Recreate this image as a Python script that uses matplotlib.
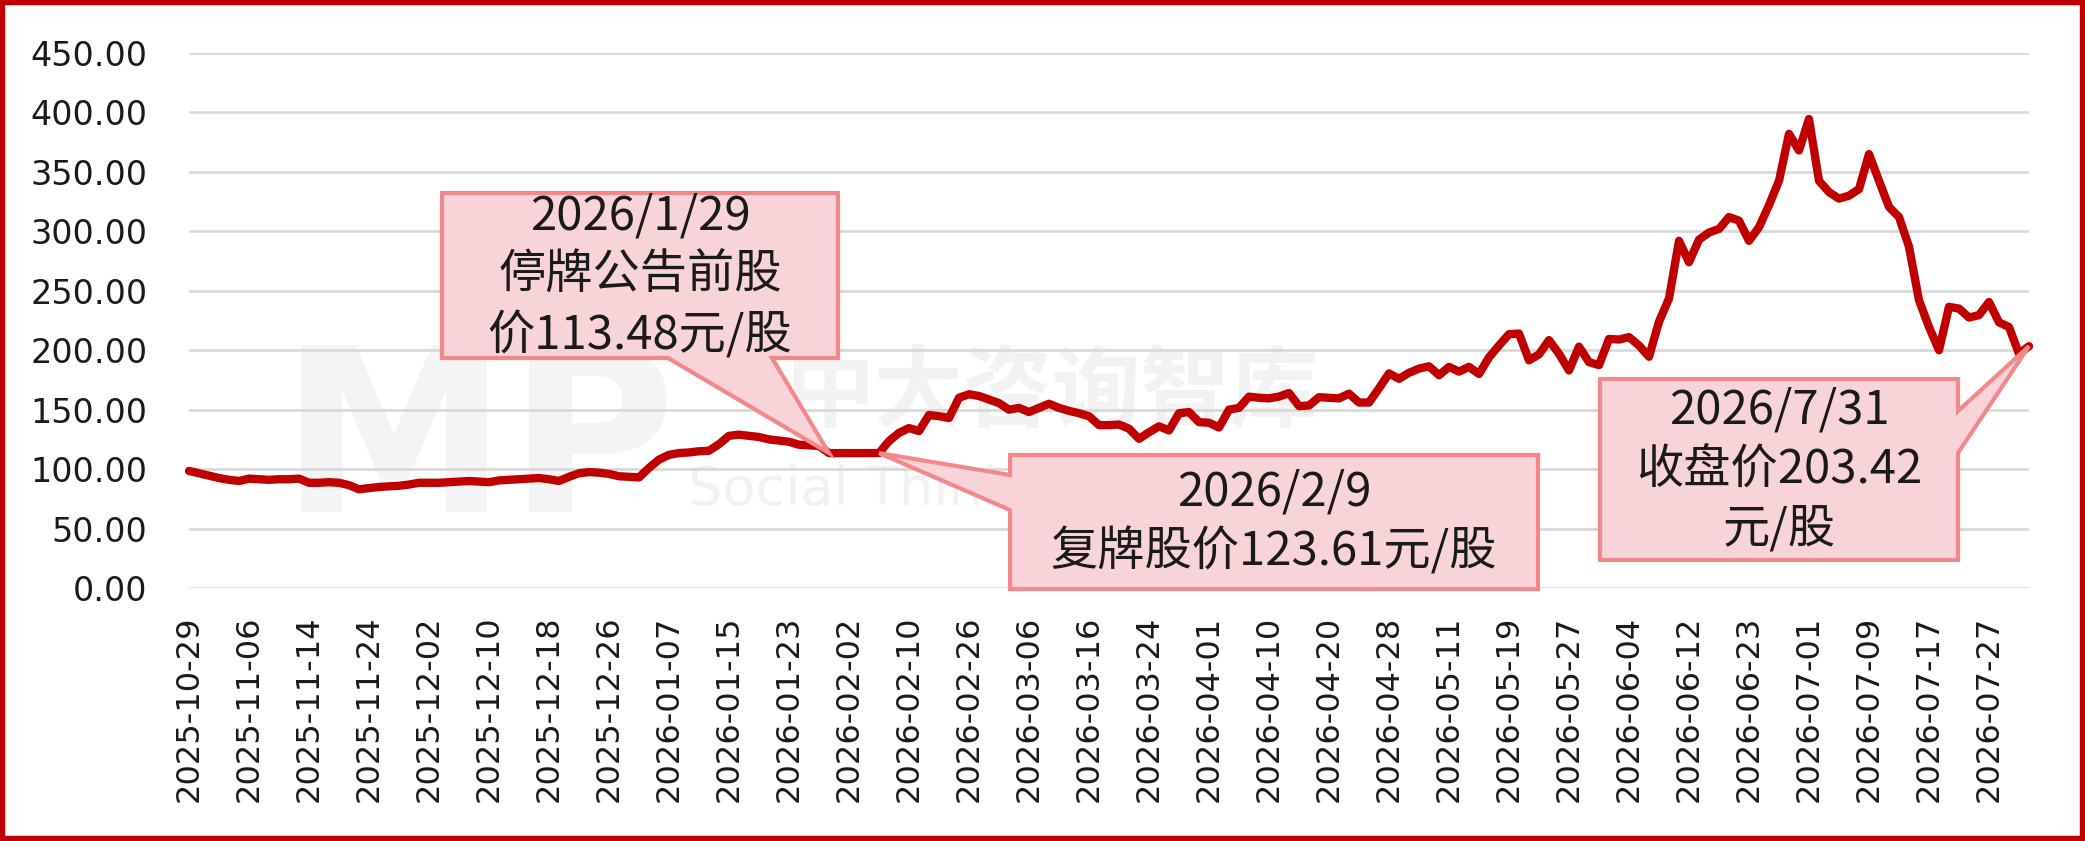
import matplotlib
matplotlib.use("Agg")
import matplotlib.pyplot as plt
from matplotlib.patches import Polygon, Rectangle
from matplotlib.transforms import IdentityTransform
import numpy as np

# ---------------- data ----------------
tick_labels = ["2025-10-29", "2025-11-06", "2025-11-14", "2025-11-24", "2025-12-02",
               "2025-12-10", "2025-12-18", "2025-12-26", "2026-01-07", "2026-01-15",
               "2026-01-23", "2026-02-02", "2026-02-10", "2026-02-26", "2026-03-06",
               "2026-03-16", "2026-03-24", "2026-04-01", "2026-04-10", "2026-04-20",
               "2026-04-28", "2026-05-11", "2026-05-19", "2026-05-27", "2026-06-04",
               "2026-06-12", "2026-06-23", "2026-07-01", "2026-07-09", "2026-07-17",
               "2026-07-27"]
tick_step = 6

prices = [
    98.5, 96.5, 94.5, 92.5, 91, 90, 92, 91.5, 91, 91.5,
    91.5, 92, 88.5, 88.5, 89, 88.5, 86.5, 83, 84, 85,
    85.5, 86, 87, 88.5, 88.5, 88.5, 89, 89.5, 90, 89.5,
    89, 90.5, 91, 91.5, 92, 92.5, 91.5, 90, 93.5, 96.5,
    97.5, 97, 96, 94, 93.5, 93, 101, 108, 112, 113.5,
    114, 115, 115.5, 121, 128, 129, 128, 127, 125, 124,
    123, 120.5, 120, 119.5, 113.48, 113.48, 113.48, 113.48, 113.48, 113.48,
    123.61, 130.5, 134.5, 132, 145.5, 144.5, 143, 160, 163, 161.5,
    158.5, 155.5, 150, 151.5, 148, 151.5, 155, 151.5, 149, 147,
    144.5, 137, 137, 137.5, 134, 125.5, 131, 136, 132.5, 147,
    148, 139.5, 139, 135, 150, 151.5, 161, 160, 159.5, 161,
    164, 153, 153.5, 160.5, 160, 159.5, 163.5, 156, 156, 168,
    180.5, 176, 181, 184.5, 186.5, 179, 186, 182, 186, 180,
    194, 204, 213.5, 214, 191.5, 196.5, 208.5, 197, 183, 203,
    190, 187.5, 209.5, 209, 211, 204, 194.5, 224, 243.5, 292,
    274, 293, 299, 302, 312, 309, 292, 303.5, 322, 342.5,
    382, 368, 394.5, 342.5, 333, 327.5, 330, 335.5, 365, 342.5,
    320.5, 312, 287, 242, 219.5, 200, 236.5, 235, 227.5, 229.5,
    240.5, 223.5, 219.5, 197, 203.42,
]

y_ticks = [0, 50, 100, 150, 200, 250, 300, 350, 400, 450]

# callout annotations: (text lines, index of pointed point)
note1_lines = ["2026/1/29", "停牌公告前股", "价113.48元/股"]
note1_idx = 64
note2_lines = ["2026/2/9", "复牌股价123.61元/股"]
note2_idx = 69
note3_lines = ["2026/7/31", "收盘价203.42", "元/股"]
note3_idx = 184

# ---------------- style ----------------
W, H = 2085, 841
LINE_RED = "#C00000"
BORDER_RED = "#C00000"
GRID = "#D9D9D9"
BOX_FILL = "#F8D3D7"
BOX_EDGE = "#F2888B"
CJK = ["Noto Sans CJK SC", "DejaVu Sans"]

fig = plt.figure(figsize=(W / 100, H / 100), dpi=100)
fig.patch.set_facecolor("white")

ax_left, ax_right, ax_top, ax_bottom = 189, 2029, 53, 588
ax = fig.add_axes([ax_left / W, 1 - ax_bottom / H,
                   (ax_right - ax_left) / W, (ax_bottom - ax_top) / H])
ax.patch.set_visible(False)

x = np.arange(len(prices))
ax.plot(x, prices, color=LINE_RED, lw=6.0, solid_joinstyle="round",
        solid_capstyle="round", zorder=3, clip_on=False)

ax.set_xlim(0, len(prices) - 1)
ax.set_ylim(0, 450)
ax.set_yticks(y_ticks)
ax.set_yticklabels([f"{v:.2f}" for v in y_ticks], fontsize=24,
                   family="DejaVu Sans", color="#1a1a1a")
ax.set_xticks(x[::tick_step][:len(tick_labels)])
ax.set_xticklabels(tick_labels, rotation=90, fontsize=23,
                   family="DejaVu Sans", color="#1a1a1a")
ax.tick_params(axis="y", length=0, pad=30)
ax.tick_params(axis="x", length=0, pad=20)
ax.grid(axis="y", color=GRID, lw=2.0, zorder=0)
ax.set_axisbelow(True)
for s in ax.spines.values():
    s.set_visible(False)

# ---------------- faint watermark ----------------
fig.text(280 / W, 1 - 512 / H, "MP", fontsize=165, fontweight="bold",
         color="#F4F4F4", family="DejaVu Sans", zorder=-1, va="baseline")
fig.text(785 / W, 1 - 420 / H, "中大咨询智库", fontsize=64, fontweight="bold",
         color="#F2F2F2", family=CJK, zorder=-1, va="baseline")
fig.text(688 / W, 1 - 505 / H, "Social Think", fontsize=39,
         color="#F1F1F1", family="DejaVu Sans", zorder=-1, va="baseline")

# ---------------- callouts ----------------
def to_pix(idx):
    px, py = ax.transData.transform((idx, prices[idx]))
    return px, py


def callout(rect, side, span, idx, lines, fs=34, ls=1.3):
    x0, y0, x1, y1 = rect           # top-origin pixels
    X0, X1 = x0, x1
    Y0, Y1 = H - y1, H - y0         # bottom-origin
    tip = to_pix(idx)
    a, b = span
    if side == "bottom":
        verts = [(X0, Y1), (X1, Y1), (X1, Y0), (b, Y0), tip, (a, Y0), (X0, Y0)]
    elif side == "left":
        ya, yb = H - a, H - b
        verts = [(X0, Y1), (X1, Y1), (X1, Y0), (X0, Y0), (X0, yb), tip, (X0, ya)]
    else:  # right
        ya, yb = H - a, H - b
        verts = [(X0, Y1), (X1, Y1), (X1, ya), tip, (X1, yb), (X1, Y0), (X0, Y0)]
    poly = Polygon(verts, closed=True, facecolor=BOX_FILL, edgecolor=BOX_EDGE,
                   lw=3.0, joinstyle="miter", transform=IdentityTransform(), zorder=5)
    fig.add_artist(poly)
    fig.text((x0 + x1) / 2 / W, 1 - (y0 + y1) / 2 / H, "\n".join(lines),
             ha="center", va="center", multialignment="center", fontsize=fs,
             family=CJK, color="#1a1a1a", linespacing=ls, zorder=6)


callout((442, 193, 838, 358), "bottom", (668, 772), note1_idx, note1_lines)
callout((1010, 455, 1538, 589), "left", (475, 510), note2_idx, note2_lines)
callout((1600, 379, 1958, 560), "right", (411, 453), note3_idx, note3_lines)

# ---------------- border ----------------
fig.add_artist(Rectangle((0, 0), 1, 1, transform=fig.transFigure, fill=False,
                         edgecolor=BORDER_RED, lw=7.5, zorder=10, clip_on=False))

fig.savefig("out.png", dpi=100, facecolor="white")
